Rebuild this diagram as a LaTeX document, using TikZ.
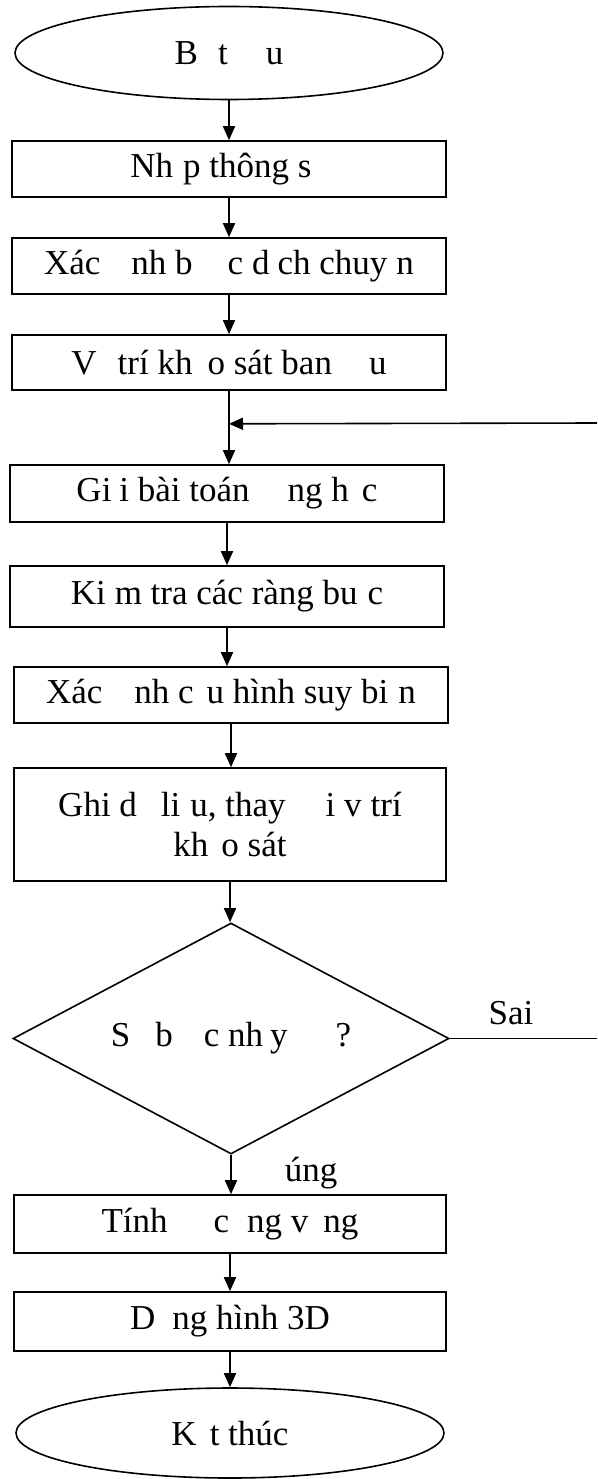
\documentclass[tikz,border=0pt]{standalone}
\usepackage{fontspec}
\setmainfont{Liberation Serif}
\usetikzlibrary{shapes.geometric,arrows.meta,calc}
\begin{document}
\begin{tikzpicture}[x=1pt,y=-1pt,
  every node/.style={font=\fontsize{35}{40}\selectfont},
  procbox/.style={draw,line width=1.6pt,rectangle,inner sep=0pt,align=center},
  termbox/.style={draw,line width=1.6pt,ellipse,inner sep=0pt},
  decbox/.style={draw,line width=1.6pt,diamond,inner sep=0pt,aspect=1.887},
  arr/.style={line width=1.6pt,-{Triangle[length=14pt,width=12pt]}},
  plain/.style={line width=1.4pt},
  lbl/.style={inner sep=0pt}]
\useasboundingbox (0,0) rectangle (597,1479);
\node[termbox,minimum width=428pt,minimum height=93pt] (start) at (229,53) {B\hspace{20pt}t\hspace{38pt}u\hspace{8pt}};
\node[procbox,minimum width=434pt,minimum height=56pt] (b1) at (229,169) {Nh\hspace{10pt}p thông s\hspace{16pt}};
\node[procbox,minimum width=434pt,minimum height=56pt] (b2) at (229,266) {Xác\hspace{31pt}nh b\hspace{35pt}c d\hspace{8pt}ch chuy\hspace{9pt}n};
\node[procbox,minimum width=434pt,minimum height=55pt] (b3) at (229,362.5) {V\hspace{21pt}trí kh\hspace{15pt}o sát ban\hspace{37pt}u};
\node[procbox,minimum width=434pt,minimum height=57pt] (b4) at (227,493.5) {Gi\hspace{8pt}i bài toán\hspace{38pt}ng h\hspace{13pt}c};
\node[procbox,minimum width=434pt,minimum height=61pt] (b5) at (227,596.5) {Ki\hspace{9pt}m tra các ràng bu\hspace{10pt}c};
\node[procbox,minimum width=434pt,minimum height=56pt] (b6) at (231,695) {Xác\hspace{32pt}nh c\hspace{13pt}u hình suy bi\hspace{10pt}n};
\node[procbox,minimum width=432pt,minimum height=113pt] (b7) at (230,824.5) {Ghi d\hspace{24pt}li\hspace{10pt}u, thay\hspace{40pt}i v\hspace{9pt}trí\\kh\hspace{13pt}o sát};
\node[decbox,minimum width=436pt,minimum height=231pt] (dec) at (231,1038.5) {S\hspace{25pt}b\hspace{31pt}c nh\hspace{7pt}y\hspace{48pt}?\hspace{6pt}};
\node[procbox,minimum width=432pt,minimum height=58pt] (b8) at (230,1224) {Tính\hspace{46pt}c\hspace{18pt}ng v\hspace{15pt}ng};
\node[procbox,minimum width=432pt,minimum height=59pt] (b9) at (230,1321.5) {D\hspace{17pt}ng hình 3D};
\node[termbox,minimum width=428pt,minimum height=90pt] (end) at (230,1433) {K\hspace{13pt}t thúc};
\node[lbl] (sai) at (511,1013) {Sai};
\node[lbl] (dung) at (311,1173) {úng};
\coordinate (join) at ($(b3.south)+(0,33)$);
\coordinate (rin) at (597,423);
\coordinate (sout) at (597,1038.5);
\draw[arr] (start.south) -- (start.south |- b1.north);
\draw[arr] (b1.south) -- (b1.south |- b2.north);
\draw[arr] (b2.south) -- (b2.south |- b3.north);
\draw[arr] (b3.south) -- (b3.south |- b4.north);
\draw[arr] (rin) -- (join);
\draw[arr] (b4.south) -- (b4.south |- b5.north);
\draw[arr] (b5.south) -- (b5.south |- b6.north);
\draw[arr] (b6.south) -- (b6.south |- b7.north);
\draw[arr] (b7.south) -- (b7.south |- dec.north);
\draw[plain] (dec.east) -- (sout);
\draw[arr] (dec.south) -- (dec.south |- b8.north);
\draw[arr] (b8.south) -- (b8.south |- b9.north);
\draw[arr] (b9.south) -- (b9.south |- end.north);
\end{tikzpicture}
\end{document}
